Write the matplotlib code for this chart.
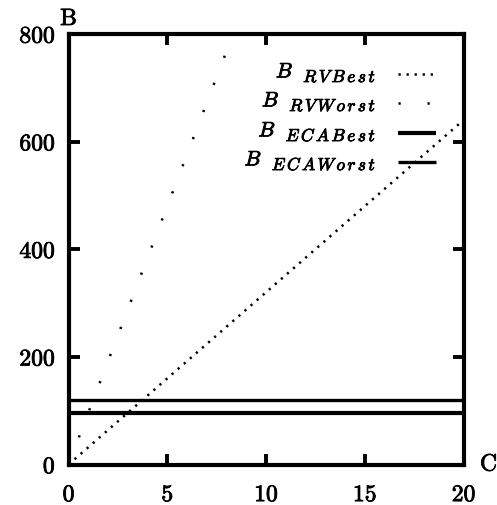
import matplotlib
matplotlib.use("Agg")
import matplotlib.pyplot as plt
import matplotlib.patheffects as pe
from matplotlib.lines import Line2D
from matplotlib.transforms import offset_copy

plt.rcParams['font.family'] = ['cmr10', 'DejaVu Serif']
plt.rcParams['axes.formatter.use_mathtext'] = True
plt.rcParams['mathtext.fontset'] = 'cm'
plt.rcParams['lines.scale_dashes'] = False

# Data
c_range = [0, 20]
rv_best = [0, 640]          # B_RVBest, linear in C
rv_worst_c = [0, 20]
rv_worst = [0, 1920]        # B_RVWorst, linear in C (clipped at 800)
eca_best = [96, 96]         # B_ECABest, constant
eca_worst = [119, 119]      # B_ECAWorst, constant

xticks = [0, 5, 10, 15, 20]
yticks = [0, 200, 400, 600, 800]

subs = ['RVBest', 'RVWorst', 'ECABest', 'ECAWorst']

W, H = 497, 505
fig = plt.figure(figsize=(W/100, H/100), dpi=100)
ax = fig.add_axes([68.5/W, (H-464.5)/H, 395/W, 430.5/H])

style_best = dict(color='black', lw=1.8, linestyle=(0, (1.6, 4.2)))
style_worst = dict(color='black', lw=1.8, linestyle=(0, (1.6, 19.3)))
style_eb = dict(color='black', lw=3.0, solid_capstyle='butt')
style_ew = dict(color='black', lw=2.4, solid_capstyle='butt')

ax.plot(c_range, rv_best, **style_best)
ax.plot(rv_worst_c, rv_worst, **style_worst)
ax.plot(c_range, eca_best, **style_eb)
ax.plot(c_range, eca_worst, **style_ew)

ax.set_xlim(0, 20)
ax.set_ylim(0, 800)
ax.set_xticks(xticks)
ax.set_yticks(yticks)
ax.set_xticklabels([str(v) for v in xticks])
ax.set_yticklabels([str(v) for v in yticks])
for s in ax.spines.values():
    s.set_linewidth(3.0)
ax.tick_params(direction='in', length=8, width=2.8, top=True, right=True,
               labelsize=17)
ax.tick_params(axis='y', pad=10)
ax.tick_params(axis='x', pad=14)

heavy = [pe.withStroke(linewidth=0.6, foreground='black')]
for lab in ax.get_xticklabels() + ax.get_yticklabels():
    lab.set_path_effects(heavy)

ax.text(0, 1.0 + 4/430.5, 'B', transform=ax.transAxes, ha='center',
        va='bottom', fontsize=17, path_effects=heavy)
ax.text(1.0 + (480-463.5)/395, 0, 'C', transform=ax.transAxes, ha='left',
        va='center', fontsize=17, path_effects=heavy)

# legend (gnuplot style: text right-aligned, sample on the right)
rows_px = [74, 103, 133, 162]
styles = [style_best, style_worst, style_eb, style_ew]
renderer = fig.canvas.get_renderer()
for py, sub, st in zip(rows_px, subs, styles):
    yy = (464.5 - py) / 430.5
    base = (464.5 - (py + 3.5)) / 430.5
    sub_tex = r'$' + r'\,'.join(sub) + r'$'
    t_sub = ax.text(0.779, base, sub_tex, transform=offset_copy(
        ax.transAxes, fig=fig, x=0, y=-4.6, units='dots'),
        ha='right', va='baseline', fontsize=12.5, path_effects=heavy)
    bb = t_sub.get_window_extent(renderer)
    x_left_frac = ax.transAxes.inverted().transform((bb.x0 - 9.5, 0))[0]
    ax.text(x_left_frac, base, r'$B$', transform=ax.transAxes, ha='right',
            va='baseline', fontsize=15, path_effects=heavy)
    ax.add_line(Line2D([0.834, 0.930], [yy, yy], transform=ax.transAxes,
                       **st))

fig.savefig('out.png', dpi=100)
